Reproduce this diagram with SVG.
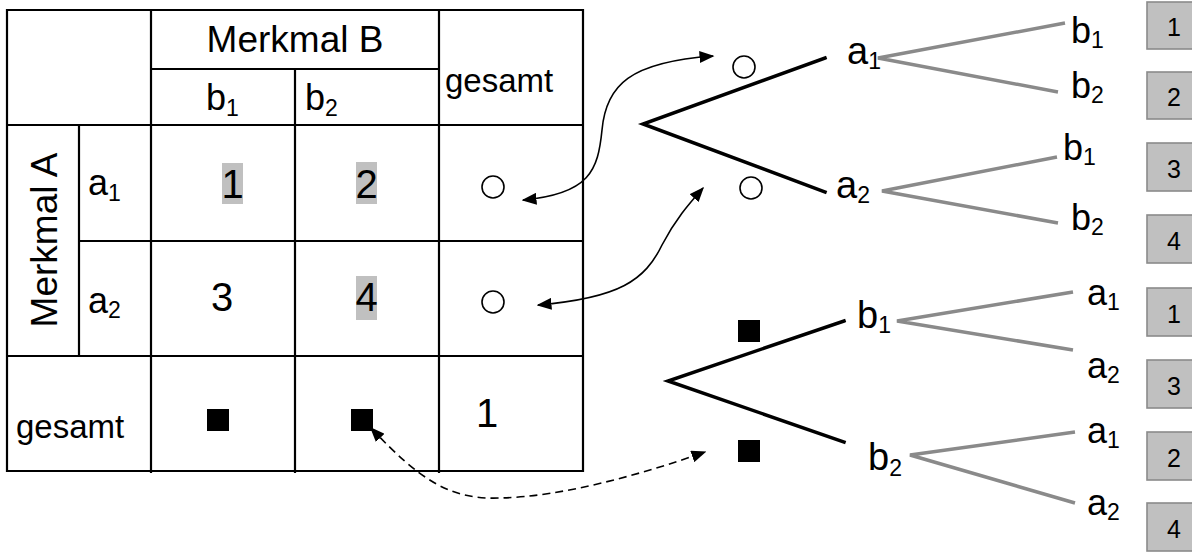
<svg xmlns="http://www.w3.org/2000/svg" width="1192" height="552" viewBox="0 0 1192 552">
<style>
text{font-family:"Liberation Sans",Arial,sans-serif;fill:#000}
.big{font-size:37px}
.dig{font-size:40px}
.lab{font-size:36px}
.tl{font-size:38px}
.ges{font-size:33px}
.sub{font-size:23px}
.grid{stroke:#000;stroke-width:2.2;fill:none}
.hl{fill:#c0c0c0}
.blk{stroke:#000;stroke-width:3.5;fill:none;stroke-linecap:square}
.gry{stroke:#8a8a8a;stroke-width:3.5;fill:none}
.circ{fill:none;stroke:#000;stroke-width:1.6}
.box{fill:#c0c0c0;stroke:#8a8a8a;stroke-width:1.6}
.bd{font-size:25px}
.conn{fill:none;stroke:#000;stroke-width:1.6}
.dash{stroke-dasharray:8 5}
</style>
<defs>
<marker id="ah" viewBox="0 0 10 10" refX="9" refY="5" markerWidth="15" markerHeight="12" markerUnits="userSpaceOnUse" orient="auto-start-reverse" preserveAspectRatio="none">
<path d="M0,0 L10,5 L0,10 z" fill="#000"/>
</marker>
</defs>
<rect x="0" y="0" width="1192" height="552" fill="#fff"/>
<g id="table">
<path class="grid" d="M7,10 H583 V471 H7 Z M151,69 H439 M7,125 H583 M79,241 H583 M7,356 H583 M79,125 V356 M151,10 V473 M295,69 V473 M439,10 V473"/>
<text class="big" x="295" y="52" text-anchor="middle">Merkmal B</text>
<text class="lab" x="206" y="110">b<tspan class="sub" dy="6">1</tspan></text>
<text class="lab" x="305" y="110">b<tspan class="sub" dy="6">2</tspan></text>
<text class="ges" x="445" y="92">gesamt</text>
<text class="big" transform="translate(57,240) rotate(-90)" text-anchor="middle">Merkmal A</text>
<text class="lab" x="88" y="195">a<tspan class="sub" dy="6">1</tspan></text>
<text class="lab" x="88" y="313">a<tspan class="sub" dy="5">2</tspan></text>
<rect class="hl" x="222" y="163" width="21" height="41"/>
<text class="dig" x="232.5" y="198" text-anchor="middle">1</text>
<rect class="hl" x="356" y="162" width="21" height="42"/>
<text class="dig" x="366.5" y="198" text-anchor="middle">2</text>
<text class="dig" x="222" y="311" text-anchor="middle">3</text>
<rect class="hl" x="356" y="276" width="21" height="44"/>
<text class="dig" x="366.5" y="311" text-anchor="middle">4</text>
<circle class="circ" cx="493" cy="187" r="11"/>
<circle class="circ" cx="493" cy="302" r="11"/>
<text class="ges" x="16" y="438">gesamt</text>
<rect x="207" y="409" width="22" height="22" fill="#000"/>
<rect x="351" y="409" width="22" height="22" fill="#000"/>
<text class="dig" x="487" y="427" text-anchor="middle">1</text>
</g>
<g id="tree1">
<path class="blk" d="M825,58 L643,124 L825,192"/>
<circle class="circ" cx="744" cy="67" r="11"/>
<circle class="circ" cx="751" cy="188" r="11"/>
<text class="tl" x="847" y="64">a<tspan class="sub" dy="5">1</tspan></text>
<text class="tl" x="836" y="198">a<tspan class="sub" dy="5">2</tspan></text>
<path class="gry" d="M1065,23 L878,58 L1058,92 M1057,157 L882,191 L1058,223"/>
<text class="lab" x="1071" y="43">b<tspan class="sub" dy="5">1</tspan></text>
<text class="lab" x="1071" y="98">b<tspan class="sub" dy="5">2</tspan></text>
<text class="lab" x="1063" y="160">b<tspan class="sub" dy="5">1</tspan></text>
<text class="lab" x="1071" y="230">b<tspan class="sub" dy="5">2</tspan></text>
</g>
<g id="tree2">
<path class="blk" d="M844,321 L668,381 L844,442"/>
<rect x="738" y="320" width="22" height="22" fill="#000"/>
<rect x="738" y="440" width="22" height="22" fill="#000"/>
<text class="tl" x="857" y="328">b<tspan class="sub" dy="5">1</tspan></text>
<text class="tl" x="868" y="470">b<tspan class="sub" dy="6">2</tspan></text>
<path class="gry" d="M1073,292 L897,321 L1073,350 M1075,432 L910,455 L1075,503"/>
<text class="lab" x="1087" y="305">a<tspan class="sub" dy="5">1</tspan></text>
<text class="lab" x="1087" y="378">a<tspan class="sub" dy="5">2</tspan></text>
<text class="lab" x="1087" y="443">a<tspan class="sub" dy="5">1</tspan></text>
<text class="lab" x="1087" y="515">a<tspan class="sub" dy="5">2</tspan></text>
</g>
<g id="boxes">
<rect class="box" x="1147" y="2" width="56" height="47"/><text class="bd" x="1174" y="36" text-anchor="middle">1</text>
<rect class="box" x="1147" y="72" width="56" height="47"/><text class="bd" x="1174" y="106" text-anchor="middle">2</text>
<rect class="box" x="1147" y="143" width="56" height="48"/><text class="bd" x="1174" y="178" text-anchor="middle">3</text>
<rect class="box" x="1147" y="215" width="56" height="48"/><text class="bd" x="1174" y="250" text-anchor="middle">4</text>
<rect class="box" x="1147" y="288" width="56" height="48"/><text class="bd" x="1174" y="323" text-anchor="middle">1</text>
<rect class="box" x="1147" y="360" width="56" height="48"/><text class="bd" x="1174" y="395" text-anchor="middle">3</text>
<rect class="box" x="1147" y="432" width="56" height="48"/><text class="bd" x="1174" y="467" text-anchor="middle">2</text>
<rect class="box" x="1147" y="503" width="56" height="48"/><text class="bd" x="1174" y="538" text-anchor="middle">4</text>
</g>
<g id="connectors">
<path class="conn" marker-start="url(#ah)" marker-end="url(#ah)" d="M523,200 C590,194 598,170 602,130 C606,85 630,62 713,56"/>
<path class="conn" marker-start="url(#ah)" marker-end="url(#ah)" d="M538,305 C620,298 645,280 662,245 C675,220 688,205 703,188"/>
<path class="conn dash" marker-start="url(#ah)" marker-end="url(#ah)" d="M371,428 C420,480 450,500 500,498 C560,497 640,475 705,452"/>
</g>
</svg>
